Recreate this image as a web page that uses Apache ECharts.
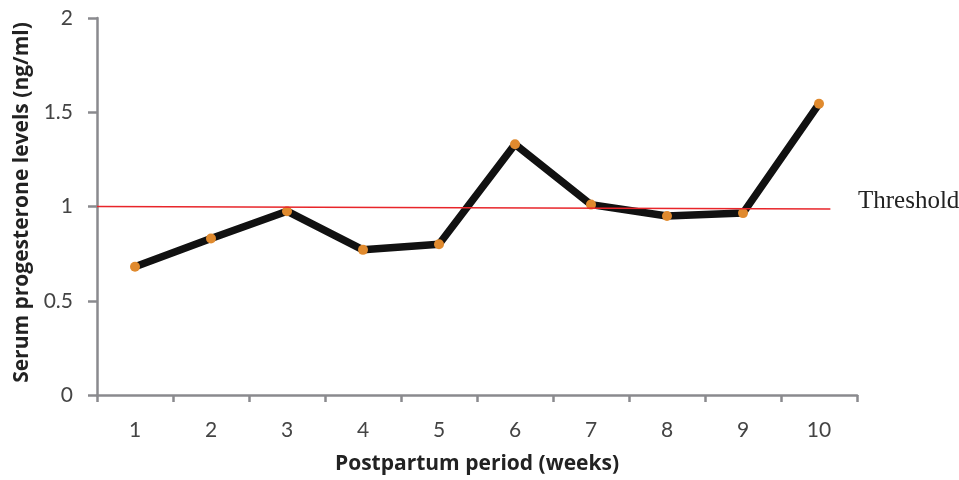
<!DOCTYPE html>
<html><head><meta charset="utf-8">
<script src="https://cdn.jsdelivr.net/npm/echarts@6/dist/echarts.min.js"></script>
<style>html,body{margin:0;padding:0;background:#fff}#c{width:959px;height:480px}</style>
</head><body><div id="c"></div>
<script>
const weeks = ['1','2','3','4','5','6','7','8','9','10'];
const progesterone = [0.68, 0.83, 0.975, 0.77, 0.80, 1.33, 1.01, 0.95, 0.965, 1.545];
const thresholdX = [0, 9.65];
const thresholdY = [1.0, 0.987];
const yTicks = [0, 0.5, 1, 1.5, 2];

const chart = echarts.init(document.getElementById('c'));
const axisColor = '#8a8a8e';
chart.setOption({
  animation: false,
  grid: {left: 97, right: 102, top: 18, bottom: 84},
  xAxis: [{
    type: 'category', data: weeks, boundaryGap: true,
    axisLine: {lineStyle: {color: axisColor, width: 2.5}},
    axisTick: {show: true, length: 7, lineStyle: {color: axisColor, width: 2.5}},
    axisLabel: {color: '#444', fontFamily: 'Lato', fontSize: 21, margin: 25},
    name: 'Postpartum period (weeks)', nameLocation: 'middle', nameGap: 59,
    nameTextStyle: {color: '#222', fontFamily: 'Open Sans', fontWeight: 'bold', fontSize: 21}
  }, {
    type: 'value', min: 0, max: 10, show: false
  }],
  yAxis: {
    type: 'value', min: yTicks[0], max: yTicks[yTicks.length-1], interval: 0.5,
    splitLine: {show: false},
    axisLine: {show: true, lineStyle: {color: axisColor, width: 2.5}},
    axisTick: {show: true, length: 9, lineStyle: {color: axisColor, width: 2.5}},
    axisLabel: {color: '#444', fontFamily: 'Lato', fontSize: 21, margin: 24},
    name: 'Serum progesterone levels (ng/ml)', nameLocation: 'middle', nameGap: 64,
    nameTextStyle: {color: '#222', fontFamily: 'Open Sans', fontWeight: 'bold', fontSize: 21, padding: [0, 0, 0, 8]}
  },
  series: [{
    type: 'line', xAxisIndex: 1,
    data: thresholdX.map((x, i) => [x, thresholdY[i]]),
    symbol: 'none', lineStyle: {color: '#e8252a', width: 1.6}, z: 3
  }, {
    type: 'line', data: progesterone,
    symbol: 'circle', symbolSize: 10,
    itemStyle: {color: '#e08a2e'},
    lineStyle: {color: '#111', width: 7.5}, z: 2
  }],
  graphic: [{
    type: 'text', left: 858, top: 189,
    style: {text: 'Threshold', font: '25px "Liberation Serif"', fill: '#222'}
  }]
});
</script></body></html>
